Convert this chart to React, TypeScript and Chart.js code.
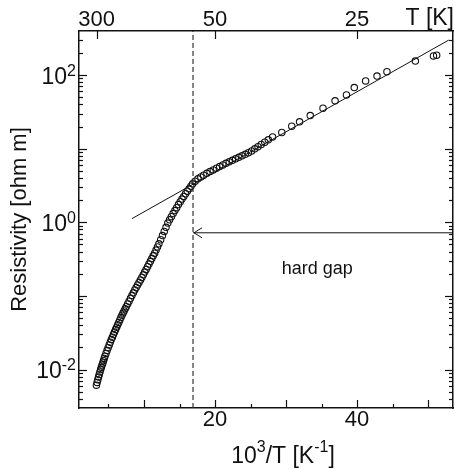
import React, { useEffect, useRef } from 'react';
import { Chart, registerables } from 'chart.js';

Chart.register(...registerables);

// ---- data: 10^3/T [1/K] and resistivity [ohm m] ----
const INV_T = [
  3.3, 3.4, 3.5, 3.6, 3.7, 3.8, 3.9, 4.0, 4.1, 4.2, 4.3, 4.4, 4.5,
  4.65, 4.8, 4.95, 5.1, 5.25, 5.4, 5.55, 5.7, 5.85, 6.0, 6.15, 6.3, 6.45, 6.6, 6.75, 6.9, 7.05, 7.2, 7.35, 7.5,
  7.7, 7.9, 8.1, 8.3, 8.5, 8.7, 8.9, 9.1, 9.3, 9.5, 9.7, 9.9, 10.1, 10.3, 10.5, 10.7, 10.9, 11.1, 11.3, 11.5, 11.7, 11.9, 12.1,
  12.35, 12.6, 12.85, 13.1, 13.35, 13.6, 13.85, 14.1, 14.35, 14.6, 14.85, 15.1, 15.35, 15.6, 15.85, 16.1, 16.35, 16.6, 16.85,
  17.2, 17.6, 18.0, 18.4, 18.85, 19.3, 19.75, 20.2, 20.65, 21.1, 21.55, 22.0, 22.45, 22.9, 23.35, 23.8, 24.25, 24.7, 25.15, 25.6, 26.05, 26.5, 27.0, 27.5,
  28.1, 29.4, 30.8, 31.9, 33.4, 35.2, 36.9, 38.5, 39.6, 41.2, 42.8, 44.2, 48.2, 50.75, 51.2,
];
const RHO = [
  0.00612, 0.00667, 0.00726, 0.00789, 0.00855, 0.00925, 0.01, 0.01072, 0.01148, 0.0123, 0.01318, 0.01413, 0.01514,
  0.01656, 0.01807, 0.01977, 0.02158, 0.0235, 0.02547, 0.02754, 0.02979, 0.03221, 0.03483, 0.03758, 0.04046, 0.04365, 0.0471, 0.05082, 0.0547, 0.05848, 0.06237, 0.06668, 0.07129,
  0.0778, 0.08492, 0.09268, 0.1009, 0.1102, 0.1202, 0.13, 0.1406, 0.1521, 0.1644, 0.1778, 0.1936, 0.2104, 0.2291, 0.2495, 0.271, 0.2951, 0.3214, 0.3499, 0.3811, 0.4188, 0.4624, 0.5105,
  0.5794, 0.6592, 0.7516, 0.8551, 0.975, 1.081, 1.191, 1.312, 1.442, 1.581, 1.738, 1.905, 2.07, 2.249, 2.443, 2.649, 2.864, 3.09, 3.334,
  3.614, 3.899, 4.14, 4.365, 4.624, 4.887, 5.152, 5.42, 5.715, 6.026, 6.324, 6.622, 6.95, 7.278, 7.621, 7.998, 8.395, 8.831, 9.333, 9.954, 10.64, 11.4, 12.27, 13.18,
  14.45, 16.6, 20.23, 23.17, 28.18, 35.48, 44.67, 53.7, 67.61, 83.18, 96.83, 110.9, 154.9, 182.0, 186.2,
];

// activated-transport fit line
const FIT_X = [8.3, 52.9];
const FIT_RHO = [1.12, 299];

// hard gap marker
const GAP_X = 16.9;
const ARROW_RHO = 0.72;
const HARD_GAP_TEXT = 'hard gap';
const HARD_GAP_X = 34.4;
const HARD_GAP_RHO = 0.196;

// axes
const X_MIN = 0.85;
const X_MAX = 53.5;
const Y_MIN = 0.003;
const Y_MAX = 397;
const X_TICKS = [5, 10, 15, 20, 25, 30, 35, 40, 45, 50];
const X_MAJOR = [10, 20, 30, 40, 50];
const X_LABELS = [20, 40];
const T_TICKS = [300, 50, 25];
const T_LABELS = ['300', '50', '25'];
const Y_DECADES = [0.001, 0.01, 0.1, 1, 10, 100];
const Y_MULTS = [1, 2, 3, 4, 5, 6, 7, 8, 9];
const Y_LABEL_VALUES = [0.01, 1, 100];
const Y_LABEL_EXP = ['-2', '0', '2'];

const FONT = '"Liberation Sans", Arial, Helvetica, sans-serif';
const INK = '#111';

function yTickList() {
  const out: { value: number; major: boolean }[] = [];
  Y_DECADES.forEach((d) => {
    Y_MULTS.forEach((m) => {
      const v = d * m;
      if (v > Y_MIN * 1.001 && v < Y_MAX * 0.999) out.push({ value: v, major: m === 1 });
    });
  });
  return out;
}

const decor = {
  id: 'decor',
  afterDatasetsDraw(chart: any) {
    const ctx = chart.ctx as CanvasRenderingContext2D;
    const { x, xTop, y, yRight } = chart.scales;
    const ca = chart.chartArea;
    ctx.save();
    ctx.strokeStyle = INK;
    ctx.fillStyle = INK;
    ctx.lineWidth = 1.2;

    // inward tick marks
    const tick = (x1: number, y1: number, x2: number, y2: number) => {
      ctx.beginPath();
      ctx.moveTo(x1, y1);
      ctx.lineTo(x2, y2);
      ctx.stroke();
    };
    x.ticks.forEach((t: any) => {
      const p = Math.round(x.getPixelForValue(t.value)) + 0.5;
      tick(p, ca.bottom, p, ca.bottom - (t.major ? 8 : 4));
    });
    xTop.ticks.forEach((t: any) => {
      const p = Math.round(xTop.getPixelForValue(t.value)) + 0.5;
      tick(p, ca.top, p, ca.top + 8);
    });
    y.ticks.forEach((t: any) => {
      const p = Math.round(y.getPixelForValue(t.value)) + 0.5;
      tick(ca.left, p, ca.left + (t.major ? 8 : 4), p);
    });
    yRight.ticks.forEach((t: any) => {
      const p = Math.round(yRight.getPixelForValue(t.value)) + 0.5;
      tick(ca.right, p, ca.right - (t.major ? 8 : 4), p);
    });

    // arrow head of the hard-gap arrow
    const ax = x.getPixelForValue(GAP_X);
    const ay = y.getPixelForValue(ARROW_RHO);
    ctx.lineWidth = 1;
    ctx.beginPath();
    ctx.moveTo(ax + 9, ay - 5);
    ctx.lineTo(ax + 1, ay);
    ctx.lineTo(ax + 9, ay + 5);
    ctx.stroke();

    // y tick labels 10^n
    ctx.textBaseline = 'alphabetic';
    ctx.textAlign = 'left';
    Y_LABEL_VALUES.forEach((v, i) => {
      const py = y.getPixelForValue(v);
      ctx.font = `16px ${FONT}`;
      const we = ctx.measureText(Y_LABEL_EXP[i]).width;
      ctx.font = `23px ${FONT}`;
      const wb = ctx.measureText('10').width;
      const right = 76;
      ctx.fillText('10', right - we - wb, py + 8.5);
      ctx.font = `16px ${FONT}`;
      ctx.fillText(Y_LABEL_EXP[i], right - we, py + 0.5);
    });

    // x title with superscripts
    const parts = [
      { t: '10', s: 23, r: 0 },
      { t: '3', s: 16, r: 11 },
      { t: '/T [K', s: 23, r: 0 },
      { t: '-1', s: 16, r: 11 },
      { t: ']', s: 23, r: 0 },
    ];
    let total = 0;
    const widths = parts.map((p) => {
      ctx.font = `${p.s}px ${FONT}`;
      const w = ctx.measureText(p.t).width;
      total += w;
      return w;
    });
    let cx = 283 - total / 2;
    parts.forEach((p, i) => {
      ctx.font = `${p.s}px ${FONT}`;
      ctx.fillText(p.t, cx, 463 - p.r);
      cx += widths[i];
    });

    // top axis unit
    ctx.font = `23px ${FONT}`;
    ctx.textAlign = 'right';
    ctx.fillText('T [K]', 454, 25);

    // hard gap annotation
    ctx.font = `18px ${FONT}`;
    ctx.textAlign = 'center';
    ctx.fillText(HARD_GAP_TEXT, x.getPixelForValue(HARD_GAP_X), y.getPixelForValue(HARD_GAP_RHO));

    ctx.restore();
  },
};

export default function App() {
  const ref = useRef<HTMLCanvasElement | null>(null);

  useEffect(() => {
    if (!ref.current) return;
    Chart.defaults.font.family = FONT;
    Chart.defaults.color = INK;

    const border = { display: true, color: INK, width: 1.5 };
    const noGrid = { display: false, drawTicks: false };

    const chart = new Chart(ref.current, {
      type: 'scatter',
      data: {
        datasets: [
          {
            label: 'fit',
            data: FIT_X.map((v, i) => ({ x: v, y: FIT_RHO[i] })),
            showLine: true,
            pointRadius: 0,
            borderColor: INK,
            borderWidth: 1,
          },
          {
            label: 'gap',
            data: [
              { x: GAP_X, y: Y_MIN },
              { x: GAP_X, y: Y_MAX },
            ],
            showLine: true,
            pointRadius: 0,
            borderColor: '#333',
            borderWidth: 1.2,
            borderDash: [5, 3],
          },
          {
            label: 'arrow',
            data: [
              { x: GAP_X, y: ARROW_RHO },
              { x: X_MAX, y: ARROW_RHO },
            ],
            showLine: true,
            pointRadius: 0,
            borderColor: INK,
            borderWidth: 1,
          },
          {
            label: 'resistivity',
            data: INV_T.map((v, i) => ({ x: v, y: RHO[i] })),
            showLine: false,
            pointRadius: 3.2,
            pointBorderWidth: 1.1,
            borderColor: INK,
            backgroundColor: 'rgba(0,0,0,0)',
            pointBackgroundColor: 'rgba(0,0,0,0)',
          },
        ],
      },
      options: {
        animation: false,
        responsive: false,
        devicePixelRatio: 1,
        layout: { padding: 0, autoPadding: false },
        plugins: { legend: { display: false }, tooltip: { enabled: false } },
        scales: {
          x: {
            type: 'linear',
            position: 'bottom',
            min: X_MIN,
            max: X_MAX,
            grid: noGrid,
            border,
            afterBuildTicks: (s: any) => {
              s.ticks = X_TICKS.map((v) => ({ value: v, major: X_MAJOR.includes(v) }));
            },
            afterFit: (s: any) => {
              s.height = 62;
            },
            ticks: {
              autoSkip: false,
              maxRotation: 0,
              padding: 1,
              color: INK,
              font: { size: 22, lineHeight: 1 },
              callback: (v: any) => (X_LABELS.includes(Number(v)) ? String(v) : ''),
            },
          },
          xTop: {
            type: 'linear',
            position: 'top',
            min: X_MIN,
            max: X_MAX,
            grid: noGrid,
            border,
            afterBuildTicks: (s: any) => {
              s.ticks = T_TICKS.map((t) => ({ value: 1000 / t, major: true }));
            },
            afterFit: (s: any) => {
              s.height = 31;
            },
            ticks: {
              autoSkip: false,
              maxRotation: 0,
              padding: 0,
              color: INK,
              font: { size: 22, lineHeight: 1 },
              callback: (_v: any, i: number) => T_LABELS[i],
            },
          },
          y: {
            type: 'logarithmic',
            position: 'left',
            min: Y_MIN,
            max: Y_MAX,
            grid: noGrid,
            border,
            afterBuildTicks: (s: any) => {
              s.ticks = yTickList();
            },
            afterFit: (s: any) => {
              s.width = 79;
            },
            ticks: { display: false },
            title: {
              display: true,
              text: 'Resistivity [ohm m]',
              color: INK,
              font: { size: 22 },
              padding: { top: 7, bottom: 0 },
            },
          },
          yRight: {
            type: 'logarithmic',
            position: 'right',
            min: Y_MIN,
            max: Y_MAX,
            grid: noGrid,
            border,
            afterBuildTicks: (s: any) => {
              s.ticks = yTickList();
            },
            afterFit: (s: any) => {
              s.width = 2;
            },
            ticks: { display: false },
          },
        },
      },
      plugins: [decor],
    });
    return () => chart.destroy();
  }, []);

  return (
    <div style={{ position: 'absolute', left: 0, top: 0, width: 455, height: 470, background: '#fff' }}>
      <canvas ref={ref} width={455} height={470} style={{ display: 'block' }} />
    </div>
  );
}
